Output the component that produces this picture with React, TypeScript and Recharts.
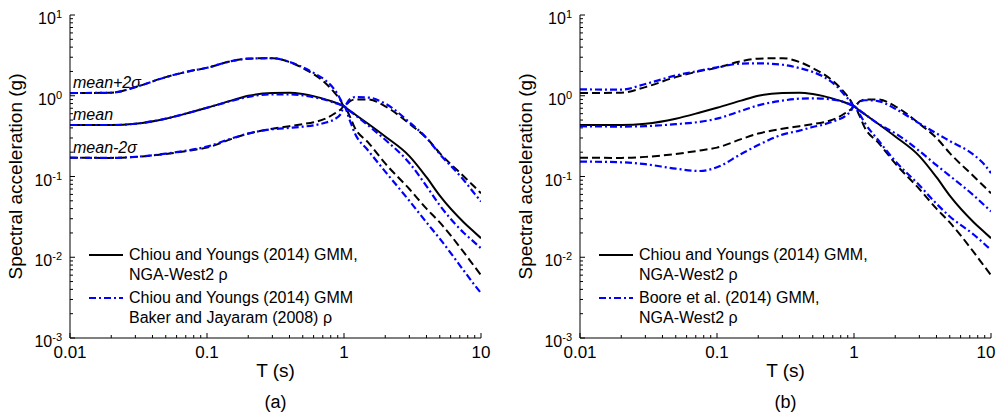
import React from 'react';
import { LineChart, Line, XAxis, YAxis, Legend } from 'recharts';

const periods = [0.01, 0.02, 0.03, 0.05, 0.075, 0.1, 0.15, 0.2, 0.3, 0.4, 0.5, 0.6, 0.75, 0.85, 0.95, 1, 1.1, 1.2, 1.5, 2, 3, 4, 5, 7.5, 9, 10];

// Chiou and Youngs (2014), NGA-West2 rho (black, same in both panels)
const cyMean = [0.434, 0.434, 0.45, 0.52, 0.62, 0.71, 0.87, 1.0, 1.08, 1.09, 1.05, 0.99, 0.89, 0.83, 0.77, 0.74, 0.655, 0.59, 0.45, 0.313, 0.179, 0.098, 0.058, 0.027, 0.0203, 0.0172];
const cyPlus = [1.08, 1.09, 1.28, 1.7, 2.02, 2.22, 2.68, 2.88, 2.92, 2.62, 2.2, 1.85, 1.38, 1.1, 0.86, 0.74, 0.85, 0.9, 0.9, 0.74, 0.45, 0.3, 0.195, 0.1, 0.074, 0.062];
const cyMinus = [0.171, 0.17, 0.175, 0.19, 0.21, 0.228, 0.29, 0.34, 0.39, 0.42, 0.445, 0.47, 0.53, 0.6, 0.68, 0.74, 0.56, 0.4, 0.265, 0.145, 0.07, 0.04, 0.027, 0.0115, 0.0076, 0.006];

// Chiou and Youngs (2014), Baker and Jayaram (2008) rho (blue, panel a)
const bjMean = [0.434, 0.434, 0.45, 0.52, 0.62, 0.71, 0.86, 0.97, 1.04, 1.04, 1.01, 0.96, 0.88, 0.82, 0.77, 0.74, 0.65, 0.58, 0.43, 0.285, 0.147, 0.076, 0.044, 0.02, 0.0152, 0.0129];
const bjPlus = [1.08, 1.09, 1.28, 1.7, 2.02, 2.22, 2.68, 2.88, 2.92, 2.62, 2.25, 1.92, 1.5, 1.2, 0.88, 0.74, 0.9, 0.96, 0.95, 0.8, 0.47, 0.3, 0.19, 0.09, 0.061, 0.049];
const bjMinus = [0.171, 0.17, 0.175, 0.192, 0.213, 0.234, 0.295, 0.34, 0.385, 0.4, 0.414, 0.43, 0.47, 0.51, 0.6, 0.74, 0.5, 0.343, 0.21, 0.115, 0.05, 0.027, 0.017, 0.0068, 0.0045, 0.0036];

// Boore et al. (2014), NGA-West2 rho (blue, panel b)
const bsMean = [0.42, 0.415, 0.42, 0.445, 0.475, 0.52, 0.65, 0.76, 0.87, 0.92, 0.93, 0.92, 0.88, 0.83, 0.77, 0.74, 0.66, 0.59, 0.45, 0.343, 0.207, 0.138, 0.102, 0.058, 0.0437, 0.037];
const bsPlus = [1.2, 1.19, 1.4, 1.78, 2.05, 2.25, 2.5, 2.52, 2.42, 2.2, 1.97, 1.72, 1.3, 1.03, 0.83, 0.74, 0.84, 0.88, 0.86, 0.69, 0.455, 0.342, 0.275, 0.185, 0.139, 0.11];
const bsMinus = [0.153, 0.15, 0.142, 0.125, 0.117, 0.13, 0.19, 0.245, 0.33, 0.37, 0.41, 0.44, 0.5, 0.55, 0.65, 0.74, 0.59, 0.46, 0.283, 0.155, 0.078, 0.046, 0.032, 0.019, 0.0145, 0.0123];

const xMajor = [0.01, 0.1, 1, 10];
const xMajorLabels = ['0.01', '0.1', '1', '10'];
const yMajor = [0.001, 0.01, 0.1, 1, 10];
const yMajorExp = ['-3', '-2', '-1', '0', '1'];
const minorSteps = [2, 3, 4, 5, 6, 7, 8, 9];

const annotationLabels = ['mean+2\u03c3', 'mean', 'mean-2\u03c3'];

const legendA = [
  ['Chiou and Youngs (2014) GMM,', 'NGA-West2 \u03c1'],
  ['Chiou and Youngs (2014) GMM', 'Baker and Jayaram (2008) \u03c1'],
];
const legendB = [
  ['Chiou and Youngs (2014) GMM,', 'NGA-West2 \u03c1'],
  ['Boore et al. (2014) GMM,', 'NGA-West2 \u03c1'],
];

const withMinors = (majors: number[]) =>
  [...majors, ...majors.slice(0, -1).flatMap((d) => minorSteps.map((m) => +(d * m).toPrecision(3)))].sort((a, b) => a - b);

const xTicks = withMinors(xMajor);
const yTicks = withMinors(yMajor);

const majorIndex = (v: number, majors: number[]) => majors.findIndex((m) => Math.abs(v / m - 1) < 1e-6);

const BLUE = '#0000ff';
const DASH = '8 4';
const DASHDOT = '7 3 2 3';
const FONT = '"Liberation Sans", Arial, Helvetica, sans-serif';

// bottom ticks point inward; the last label is nudged so it stays in the chart
const makeBottomTick = (chartWidth: number) => (props: any) => {
  const { x, y, payload } = props;
  const i = majorIndex(payload.value, xMajor);
  return (
    <g>
      <line x1={x} y1={y} x2={x} y2={y - (i >= 0 ? 5 : 3)} stroke="#000" />
      {i >= 0 && (
        <text x={Math.min(x, chartWidth - 12)} y={y + 20} textAnchor="middle" fontSize={17} fill="#000">
          {xMajorLabels[i]}
        </text>
      )}
    </g>
  );
};

const topTick = (props: any) => {
  const { x, y, payload } = props;
  const i = majorIndex(payload.value, xMajor);
  return <line x1={x} y1={y} x2={x} y2={y + (i >= 0 ? 5 : 3)} stroke="#000" />;
};

const leftTick = (props: any) => {
  const { x, y, payload } = props;
  const i = majorIndex(payload.value, yMajor);
  return (
    <g>
      <line x1={x} y1={y} x2={x + (i >= 0 ? 5 : 3)} y2={y} stroke="#000" />
      {i >= 0 && (
        <text x={x - 8} y={y + 9} textAnchor="end" fontSize={16} fill="#000">
          <tspan>10</tspan>
          <tspan dy={-6} fontSize={11}>{yMajorExp[i]}</tspan>
        </text>
      )}
    </g>
  );
};

const rightTick = (props: any) => {
  const { x, y, payload } = props;
  const i = majorIndex(payload.value, yMajor);
  return <line x1={x} y1={y} x2={x - (i >= 0 ? 5 : 3)} y2={y} stroke="#000" />;
};

type Series = { key: string; values: number[]; color: string; dash?: string; legend?: number };

const LegendBox = ({ entries, series }: { entries: string[][]; series: Series[] }) => {
  const shown = series.filter((s) => s.legend !== undefined);
  return (
    <svg width={340} height={95} style={{ fontFamily: FONT }}>
      {shown.map((s, i) => {
        const top = i * 43;
        return (
          <g key={s.key}>
            <line x1={9} x2={43} y1={top + 15} y2={top + 15} stroke={s.color} strokeWidth={2.2} strokeDasharray={s.dash} />
            {entries[s.legend as number].map((t, j) => (
              <text key={j} x={49} y={top + 20 + j * 20} fontSize={16} fill="#000">
                {t}
              </text>
            ))}
          </g>
        );
      })}
    </svg>
  );
};

type PanelProps = {
  left: number;
  width: number;
  yAxisWidth: number;
  marginRight: number;
  series: Series[];
  legend: string[][];
  caption: string;
  annotate?: boolean;
};

const Panel = ({ left, width, yAxisWidth, marginRight, series, legend, caption, annotate }: PanelProps) => {
  const rows = periods.map((T, i) => {
    const row: Record<string, number> = { T };
    series.forEach((s) => {
      row[s.key] = s.values[i];
    });
    return row;
  });
  const plotLeft = yAxisWidth;
  const plotRight = width - marginRight;
  const plotCenter = (plotLeft + plotRight) / 2;
  const ylabelDx = yAxisWidth - 54.5 - yAxisWidth / 2;

  return (
    <div style={{ position: 'absolute', left, top: 0 }}>
      <LineChart width={width} height={414} data={rows} margin={{ top: 15, right: marginRight, bottom: 0, left: 0 }}>
        <XAxis
          dataKey="T"
          type="number"
          scale="log"
          domain={[0.01, 10]}
          allowDataOverflow
          ticks={xTicks}
          interval={0}
          tick={makeBottomTick(width)}
          tickLine={false}
          tickSize={0}
          tickMargin={0}
          height={76}
          axisLine={{ stroke: '#000' }}
          label={{ value: 'T (s)', position: 'insideBottom', offset: 37, fontSize: 19, fill: '#000' }}
        />
        <XAxis
          xAxisId="top"
          orientation="top"
          dataKey="T"
          type="number"
          scale="log"
          domain={[0.01, 10]}
          allowDataOverflow
          ticks={xTicks}
          interval={0}
          tick={topTick}
          tickLine={false}
          tickSize={0}
          tickMargin={0}
          height={0}
          axisLine={{ stroke: '#000' }}
        />
        <YAxis
          type="number"
          scale="log"
          domain={[0.001, 10]}
          allowDataOverflow
          ticks={yTicks}
          interval={0}
          tick={leftTick}
          tickLine={false}
          tickSize={0}
          tickMargin={0}
          width={yAxisWidth}
          axisLine={{ stroke: '#000' }}
          label={{
            value: 'Spectral acceleration (g)',
            angle: -90,
            position: 'center',
            dx: ylabelDx,
            fontSize: 19,
            fill: '#000',
          }}
        />
        <YAxis
          yAxisId="right"
          orientation="right"
          type="number"
          scale="log"
          domain={[0.001, 10]}
          allowDataOverflow
          ticks={yTicks}
          interval={0}
          tick={rightTick}
          tickLine={false}
          tickSize={0}
          tickMargin={0}
          width={0}
          axisLine={{ stroke: '#000' }}
        />
        {series.map((s) => (
          <Line
            key={s.key}
            dataKey={s.key}
            name={s.legend !== undefined ? legend[s.legend].join(' ') : s.key}
            type="monotone"
            stroke={s.color}
            strokeWidth={s.color === BLUE ? 2.2 : 2}
            strokeDasharray={s.dash}
            dot={false}
            activeDot={false}
            legendType={s.legend !== undefined ? 'line' : 'none'}
            isAnimationActive={false}
          />
        ))}
        <Legend
          layout="horizontal"
          verticalAlign="middle"
          align="center"
          wrapperStyle={{ left: plotLeft + 10, top: 240, width: 340, height: 95 }}
          content={() => <LegendBox entries={legend} series={series} />}
        />
        {annotate &&
          annotationLabels.map((t, i) => (
            <text key={t} x={plotLeft + 3} y={[87.5, 120, 152.5][i]} fontSize={16} fontStyle="italic" fill="#000">
              {t}
            </text>
          ))}
        <text x={plotCenter} y={408} textAnchor="middle" fontSize={18} fill="#000">
          {caption}
        </text>
      </LineChart>
    </div>
  );
};

const blackSeries: Series[] = [
  { key: 'cyPlus', values: cyPlus, color: '#000', dash: DASH },
  { key: 'cyMinus', values: cyMinus, color: '#000', dash: DASH },
  { key: 'cyMean', values: cyMean, color: '#000', legend: 0 },
];

const seriesA: Series[] = [
  ...blackSeries,
  { key: 'bjPlus', values: bjPlus, color: BLUE, dash: DASHDOT },
  { key: 'bjMinus', values: bjMinus, color: BLUE, dash: DASHDOT },
  { key: 'bjMean', values: bjMean, color: BLUE, dash: DASHDOT, legend: 1 },
];

const seriesB: Series[] = [
  ...blackSeries,
  { key: 'bsPlus', values: bsPlus, color: BLUE, dash: DASHDOT },
  { key: 'bsMinus', values: bsMinus, color: BLUE, dash: DASHDOT },
  { key: 'bsMean', values: bsMean, color: BLUE, dash: DASHDOT, legend: 1 },
];

export default function App() {
  return (
    <div style={{ position: 'absolute', left: 0, top: 0, width: 998, height: 414, background: '#fff', fontFamily: FONT }}>
      <Panel left={0} width={500} yAxisWidth={70} marginRight={19} series={seriesA} legend={legendA} caption="(a)" annotate />
      <Panel left={500} width={498} yAxisWidth={80} marginRight={7} series={seriesB} legend={legendB} caption="(b)" />
    </div>
  );
}
